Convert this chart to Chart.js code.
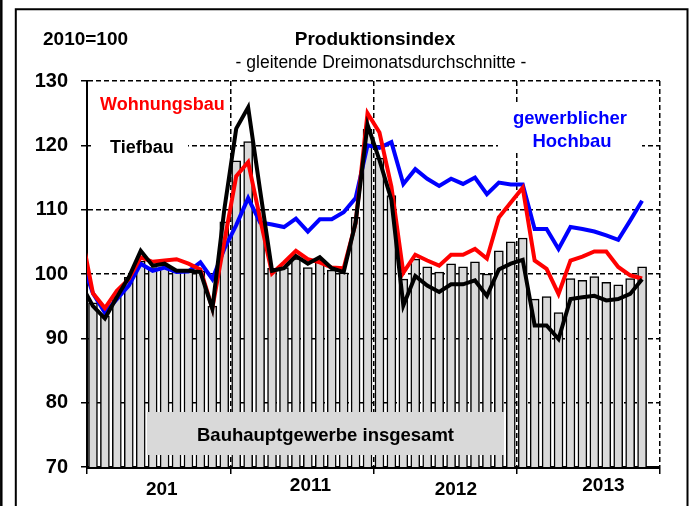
<!DOCTYPE html>
<html><head><meta charset="utf-8">
<script src="https://cdn.jsdelivr.net/npm/chart.js@4.4.0/dist/chart.umd.min.js"></script>
<style>html,body{margin:0;padding:0;background:#fff;overflow:hidden}canvas{display:block}</style>
</head><body>
<canvas id="c" width="696" height="506" style="width:696px;height:506px"></canvas>
<script>
// Months: bars Jan 2010 .. Nov 2013 (index 0..46); lines also carry Dec 2009 (index -1)
const yearLabels = ['201', '2011', '2012', '2013'];
const yearLabelPos = [5.76, 18.22, 30.4, 42.76];
const yearBoundaries = [-0.5, 11.5, 23.5, 35.5, 47.5];
const yTickValues = [70, 80, 90, 100, 110, 120, 130];

// Bauhauptgewerbe insgesamt (bars), Jan 2010 - Nov 2013
const bauhauptgewerbe = [
  95.5, 93.5, 96.5, 99.5, 102.0, 101.0, 101.0, 100.5, 100.5, 100.5, 95.0, 108.1,
  117.6, 120.6, 110.0, 100.9, 101.0, 102.4, 101.0, 102.2, 100.6, 100.2, 108.8, 122.5,
  118.0, 112.2, 99.2, 102.3, 101.1, 100.3, 101.6, 101.1, 101.9, 100.0, 103.6, 105.0,
  105.6, 96.1, 96.5, 94.0, 99.3, 99.0, 99.6, 98.7, 98.3, 99.3, 101.1
];
// Wohnungsbau, Dec 2009 - Nov 2013
const wohnungsbau = [
  106.5,
  97.0, 94.7, 97.4, 99.2, 102.6, 101.9, 102.1, 102.3, 101.6, 100.7, 94.7, 105.0,
  115.2, 117.4, 108.6, 100.1, 101.8, 103.6, 102.3, 101.8, 101.0, 100.9, 107.9, 125.0,
  122.0, 113.6, 100.2, 103.0, 102.1, 101.3, 103.0, 103.0, 103.9, 102.4, 108.8, 111.1,
  113.4, 102.1, 100.8, 96.9, 102.1, 102.7, 103.5, 103.5, 101.1, 99.8, 99.3
];
// gewerblicher Hochbau, Dec 2009 - Nov 2013
const hochbau = [
  102.2,
  97.0, 94.0, 96.1, 98.2, 101.6, 100.5, 101.0, 100.3, 100.4, 101.8, 99.2, 103.9,
  107.6, 111.8, 108.0, 107.7, 107.3, 108.6, 106.6, 108.5, 108.5, 109.6, 111.8, 120.0,
  119.6, 120.5, 114.0, 116.3, 114.8, 113.7, 114.8, 114.0, 115.0, 112.4, 114.2, 113.9,
  113.9, 107.0, 107.0, 103.9, 107.3, 107.0, 106.6, 106.0, 105.3, 108.3, 111.4
];
// Tiefbau, Dec 2009 - Nov 2013
const tiefbau = [
  98.4,
  95.0, 93.1, 96.4, 99.5, 103.6, 101.3, 101.6, 100.5, 100.5, 100.3, 94.6, 110.0,
  122.6, 125.9, 113.0, 100.5, 100.9, 102.8, 101.6, 102.6, 100.9, 100.3, 108.0, 123.2,
  117.7, 111.5, 95.1, 99.7, 98.2, 97.2, 98.4, 98.4, 99.0, 96.6, 100.7, 101.6,
  102.2, 92.0, 92.0, 89.9, 96.1, 96.4, 96.6, 95.9, 96.1, 96.9, 99.2
];

const FONT = "'Liberation Sans', Arial, sans-serif";
const toPts = (arr, start) => arr.map((v, i) => ({x: i + start, y: v}));
const isBoundary = v => yearBoundaries.includes(v);
const raisedLabels = ['2011', '2013'];
const labelFor = v => { const k = yearLabelPos.indexOf(v); return k >= 0 ? yearLabels[k] : ''; };
const lineClip = {left: 0, top: false, right: false, bottom: false};

const deco = {
  id: 'deco',
  beforeDraw(chart) {
    const c = chart.ctx;
    c.save();
    c.fillStyle = '#fff';
    c.fillRect(0, 0, chart.width, chart.height);
    c.strokeStyle = '#000';
    c.lineWidth = 2.5;
    c.beginPath(); c.moveTo(1.3, 0); c.lineTo(1.3, 510); c.stroke();
    c.lineWidth = 2;
    c.beginPath(); c.moveTo(15.8, 510); c.lineTo(15.8, 9.2); c.lineTo(687.5, 9.2); c.lineTo(687.5, 510); c.stroke();
    c.fillStyle = '#000';
    c.textBaseline = 'alphabetic';
    c.font = 'bold 19px ' + FONT;
    c.textAlign = 'left';
    c.fillText('2010=100', 43, 45);
    c.textAlign = 'center';
    c.fillText('Produktionsindex', 375, 45);
    c.font = '17.5px ' + FONT;
    c.fillText('- gleitende Dreimonatsdurchschnitte -', 381, 68);
    c.restore();
  },
  beforeDatasetsDraw(chart) {
    const c = chart.ctx;
    c.save();
    c.fillStyle = '#fff';
    c.fillRect(91, 134, 97, 26);
    c.fillRect(498, 104, 144, 46);
    c.textBaseline = 'alphabetic';
    c.font = 'bold 18px ' + FONT;
    c.textAlign = 'left';
    c.fillStyle = '#ff0000';
    c.fillText('Wohnungsbau', 100, 110);
    c.fillStyle = '#000';
    c.fillText('Tiefbau', 110, 153);
    c.fillStyle = '#0000ff';
    c.textAlign = 'center';
    c.font = 'bold 18.5px ' + FONT;
    c.fillText('gewerblicher', 570, 124);
    c.fillText('Hochbau', 572, 146.5);
    c.restore();
  },
  afterDatasetsDraw(chart) {
    const c = chart.ctx;
    c.save();
    c.fillStyle = '#d9d9d9';
    c.fillRect(147, 412, 357, 43);
    c.fillStyle = '#000';
    c.font = 'bold 18.5px ' + FONT;
    c.textAlign = 'center';
    c.textBaseline = 'alphabetic';
    c.fillText('Bauhauptgewerbe insgesamt', 325.5, 441);
    c.restore();
  }
};

new Chart(document.getElementById('c'), {
  type: 'bar',
  data: {
    datasets: [
      {type: 'line', label: 'Tiefbau', data: toPts(tiefbau, -1), borderColor: '#000000', borderWidth: 4,
       pointRadius: 0, tension: 0, borderJoinStyle: 'miter', order: 0, clip: lineClip},
      {type: 'line', label: 'Wohnungsbau', data: toPts(wohnungsbau, -1), borderColor: '#ff0000', borderWidth: 4,
       pointRadius: 0, tension: 0, borderJoinStyle: 'miter', order: 1, clip: lineClip},
      {type: 'line', label: 'gewerblicher Hochbau', data: toPts(hochbau, -1), borderColor: '#0000ff', borderWidth: 4,
       pointRadius: 0, tension: 0, borderJoinStyle: 'miter', order: 2, clip: lineClip},
      {type: 'bar', label: 'Bauhauptgewerbe insgesamt', data: toPts(bauhauptgewerbe, 0), backgroundColor: '#d9d9d9',
       borderColor: '#000000', borderWidth: 1.5, barThickness: 9, order: 3}
    ]
  },
  options: {
    responsive: false,
    devicePixelRatio: 1,
    animation: false,
    events: [],
    layout: {padding: {top: 81, right: 36, left: 0, bottom: 0}},
    plugins: {legend: {display: false}, tooltip: {enabled: false}, title: {display: false}},
    scales: {
      x: {
        type: 'linear', min: -0.5, max: 47.5, offset: false,
        afterBuildTicks: s => { s.ticks = yearBoundaries.concat(yearLabelPos).sort((a, b) => a - b).map(v => ({value: v})); },
        afterFit: s => { s.height = 39; },
        grid: {
          offset: false, drawOnChartArea: true, drawTicks: true, tickLength: 7, lineWidth: 1.5, tickWidth: 1.5,
          color: ctx => (ctx.tick && isBoundary(ctx.tick.value) && ctx.tick.value > -0.5) ? '#000' : 'rgba(0,0,0,0)',
          tickColor: ctx => (ctx.tick && isBoundary(ctx.tick.value)) ? '#000' : 'rgba(0,0,0,0)',
          tickBorderDash: []
        },
        border: {display: true, color: '#000', width: 3, dash: [5, 3]},
        ticks: {
          autoSkip: false, maxRotation: 0, minRotation: 0, padding: 0, color: '#000',
          font: ctx => ({family: FONT, size: 19, weight: 'bold',
                         lineHeight: (ctx.tick && raisedLabels.includes(labelFor(ctx.tick.value))) ? '23px' : '31px'}),
          callback: v => labelFor(v)
        }
      },
      y: {
        type: 'linear', min: 70, max: 130,
        afterBuildTicks: s => { s.ticks = yTickValues.map(v => ({value: v})); },
        afterFit: s => { s.width = 87; },
        grid: {
          drawOnChartArea: true, drawTicks: true, tickLength: 6, lineWidth: 1.5, tickWidth: 1.5,
          color: ctx => (ctx.tick && ctx.tick.value > 70) ? '#000' : 'rgba(0,0,0,0)',
          tickColor: '#000', tickBorderDash: []
        },
        border: {display: true, color: '#000', width: 2, dash: [5, 3]},
        ticks: {padding: 13, color: '#000', font: {family: FONT, size: 20, weight: 'bold'}}
      }
    }
  },
  plugins: [deco]
});
</script>
</body></html>
